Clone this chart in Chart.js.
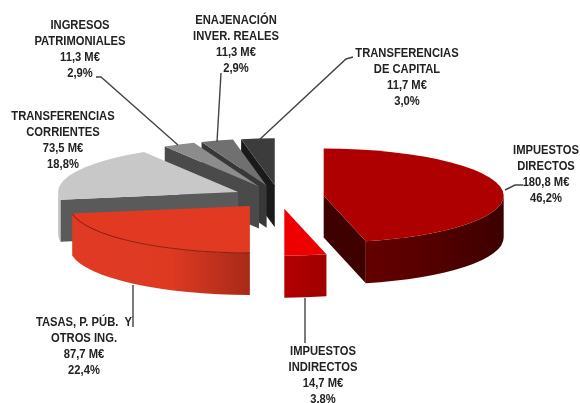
<!DOCTYPE html>
<html><head><meta charset="utf-8">
<style>html,body{margin:0;padding:0;background:#fff}#w{width:580px;height:403px;position:relative}canvas{filter:blur(0.35px)}</style>
<script src="https://cdn.jsdelivr.net/npm/chart.js@4"></script></head>
<body><div id="w"><canvas id="c" width="580" height="403"></canvas></div>
<script>
const categories = [["IMPUESTOS","DIRECTOS"],["IMPUESTOS","INDIRECTOS"],["TASAS, P. PÚB.  Y","OTROS ING."],["TRANSFERENCIAS","CORRIENTES"],["INGRESOS","PATRIMONIALES"],["ENAJENACIÓN","INVER. REALES"],["TRANSFERENCIAS","DE CAPITAL"]];
const values = [180.8,14.7,87.7,73.5,11.3,11.3,11.7];
const valueLabels = ["180,8 M€","14,7 M€","87,7 M€","73,5 M€","11,3 M€","11,3 M€","11,7 M€"];
const percentLabels = ["46,2%","3,8%","22,4%","18,8%","2,9%","2,9%","3,0%"];

const topColors = ["#ae0000","#ee0000","#e23a22","#c8c8c8","#8c8c8c","#707070","#3c3c3c"];
const wallColors = ["#3f0000","#a00000","#a82a18","#5a5a5a","#4a4a4a","#383838","#1a1a1a"];
const rimStops = [["#640000","#520000","#3c0000"],["#b40000","#a80000","#a00000"],["#e03a24","#de3a22","#a82a18"],["#c4c4c4","#c4c4c4","#c4c4c4"],["#444","#444","#444"],["#333","#333","#333"],["#222","#222","#222"]];
const labelCenters = [[546,150],[323,351],[84,322],[63,116],[80,25],[236,20],[407,53]];
const leaders = [[[523,185],[515,185],[505,190]],[[305,298],[305,343]],[[133,285],[133,327]],[],[[96,77],[101,77],[178,145]],[[221,73],[217,142]],[[353,57],[346,59],[258,141]]];
const squash = 47/180, depth = 42, lineStep = 16, narrow = 0.83;

function wall(ctx,ax,ay,bx,by,fill){
  ctx.beginPath();ctx.moveTo(ax,ay);ctx.lineTo(bx,by);ctx.lineTo(bx,by+depth);ctx.lineTo(ax,ay+depth);ctx.closePath();
  ctx.fillStyle=fill;ctx.fill();
}
const pie3d = {
  id:'pie3d',
  beforeDatasetDraw(chart,args){
    const ctx=chart.ctx, arcs=args.meta.data;
    for(let i=arcs.length-1;i>=0;i--){
      const a=arcs[i], s=a.startAngle, e=a.endAngle, mid=(s+e)/2, off=(a.options.offset||0)/4, r=a.outerRadius;
      const ox=a.x+Math.cos(mid)*off, oy=a.y+Math.sin(mid)*off*squash;
      const pt=t=>[ox+Math.cos(t)*r, oy+Math.sin(t)*r*squash];
      if(Math.cos(s)<-1e-6){const p=pt(s);wall(ctx,ox,oy,p[0],p[1],wallColors[i]);}
      if(Math.cos(e)>1e-6){const p=pt(e);wall(ctx,ox,oy,p[0],p[1],wallColors[i]);}
      const from=Math.max(s,0), to=Math.min(e,Math.PI);
      if(to>from){
        const p0=pt(from), p1=pt(to);
        const g=ctx.createLinearGradient(Math.min(p0[0],p1[0]),0,Math.max(p0[0],p1[0]),0);
        const st=rimStops[i];
        g.addColorStop(0,st[0]);g.addColorStop(.55,st[1]);g.addColorStop(1,st[2]);
        ctx.beginPath();
        ctx.save();ctx.translate(ox,oy);ctx.scale(1,squash);ctx.arc(0,0,r,from,to);ctx.restore();
        ctx.save();ctx.translate(ox,oy+depth);ctx.scale(1,squash);ctx.arc(0,0,r,to,from,true);ctx.restore();
        ctx.closePath();ctx.fillStyle=g;ctx.fill();
      }
      ctx.save();ctx.beginPath();ctx.moveTo(ox,oy);
      ctx.translate(ox,oy);ctx.scale(1,squash);ctx.arc(0,0,r,s,e);ctx.restore();
      ctx.closePath();ctx.fillStyle=a.options.backgroundColor;ctx.fill();
      if(i===2){
        ctx.save();ctx.beginPath();ctx.translate(ox,oy);ctx.scale(1,squash);ctx.arc(0,0,r,from,to);ctx.restore();
        ctx.strokeStyle="#8a1c10";ctx.lineWidth=1;ctx.stroke();
      }
    }
    return false;
  },
  afterDraw(chart){
    const ctx=chart.ctx;
    ctx.save();
    ctx.strokeStyle="#444";ctx.lineWidth=1.4;
    leaders.forEach(l=>{ if(!l.length)return; ctx.beginPath();l.forEach((p,j)=>j?ctx.lineTo(p[0],p[1]):ctx.moveTo(p[0],p[1]));ctx.stroke();});
    ctx.fillStyle="#222";ctx.textAlign="center";ctx.textBaseline="middle";
    ctx.font='bold 13.5px "Liberation Sans",sans-serif';
    categories.forEach((c,i)=>{
      const [x,y]=labelCenters[i];
      [...c,valueLabels[i],percentLabels[i]].forEach((t,j)=>{
        ctx.save();ctx.translate(x,y+j*lineStep);ctx.scale(narrow,1);ctx.fillText(t,0,0);ctx.restore();
      });
    });
    ctx.restore();
  }
};
new Chart(document.getElementById('c'),{
  type:'pie',
  data:{labels:categories.map(c=>c.join(' ')),datasets:[{data:values,backgroundColor:topColors,borderWidth:0,offset:180,radius:180}]},
  options:{responsive:false,animation:false,rotation:0,
    layout:{padding:{right:22,bottom:9}},
    plugins:{legend:{display:false},tooltip:{enabled:false}}},
  plugins:[pie3d]
});
</script></body></html>
